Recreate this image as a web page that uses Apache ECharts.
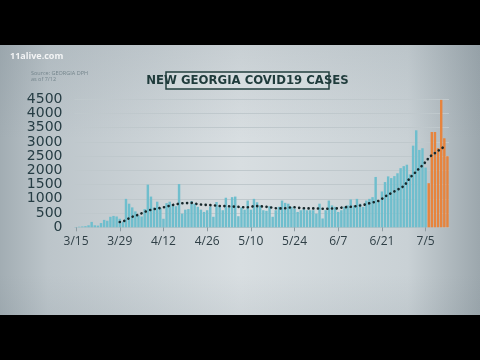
<!DOCTYPE html>
<html><head><meta charset="utf-8">
<script src="https://cdn.jsdelivr.net/npm/echarts@6/dist/echarts.min.js"></script>
<style>html,body{margin:0;padding:0;background:#000}#c{width:480px;height:360px}</style>
</head><body><div id="c"></div>
<script>
// Categories (daily, 3/15 - 7/12)
const datesMar = ['3/15','3/16','3/17','3/18','3/19','3/20','3/21','3/22','3/23','3/24','3/25','3/26','3/27','3/28','3/29','3/30','3/31'];
const datesApr = ['4/1','4/2','4/3','4/4','4/5','4/6','4/7','4/8','4/9','4/10','4/11','4/12','4/13','4/14','4/15','4/16','4/17','4/18','4/19','4/20','4/21','4/22','4/23','4/24','4/25','4/26','4/27','4/28','4/29','4/30'];
const datesMay = ['5/1','5/2','5/3','5/4','5/5','5/6','5/7','5/8','5/9','5/10','5/11','5/12','5/13','5/14','5/15','5/16','5/17','5/18','5/19','5/20','5/21','5/22','5/23','5/24','5/25','5/26','5/27','5/28','5/29','5/30','5/31'];
const datesJun = ['6/1','6/2','6/3','6/4','6/5','6/6','6/7','6/8','6/9','6/10','6/11','6/12','6/13','6/14','6/15','6/16','6/17','6/18','6/19','6/20','6/21','6/22','6/23','6/24','6/25','6/26','6/27','6/28','6/29','6/30'];
const datesJul = ['7/1','7/2','7/3','7/4','7/5','7/6','7/7','7/8','7/9','7/10','7/11','7/12'];

// New cases per day
const casesMar = [10,20,30,40,70,190,70,60,150,260,230,370,400,380,300,200,1000];
const casesApr = [830,700,560,420,380,640,1500,1080,700,900,680,300,850,900,820,740,1520,480,620,640,920,830,720,620,540,600,730,370,890,730];
const casesMay = [600,1040,700,1060,1080,390,700,620,940,620,1000,880,770,600,580,740,370,600,720,940,860,830,720,660,540,600,660,600,600,600,480];
const casesJun = [830,310,600,940,770,720,540,600,720,770,980,770,1000,830,720,940,1000,1060,1770,900,1260,1590,1790,1730,1800,1900,2080,2150,2200,1860];
const casesJul = [2870,3410,2720,2780,2100,1550,3350,3350,2780,4480,3130,2500];

// 7-day average (dotted line)
const avgMar = [null,null,null,null,null,null,null,null,null,null,null,null,null,null,185,200,260];
const avgApr = [320,370,410,440,490,540,585,615,640,660,680,700,730,755,785,810,830,845,850,850,860,840,810,800,790,785,780,775,760,750];
const avgMay = [745,745,740,730,725,720,710,705,705,720,745,745,740,730,720,705,685,670,665,665,670,690,705,705,690,675,670,665,665,665,665];
const avgJun = [660,650,650,655,660,660,670,690,705,715,720,730,750,765,785,810,845,870,900,930,1000,1080,1140,1200,1260,1320,1380,1450,1580,1750];
const avgJul = [1850,1960,2080,2180,2300,2440,2540,2610,2690,2750,2850,null];

const highlightFrom = '7/6';
const yTicks = {min: 0, max: 4500, step: 500};
const titleText = 'NEW GEORGIA COVID19 CASES';
const sourceText = 'Source: GEORGIA DPH\nas of 7/12';
const brandText = '11alive.com';

const dates = [].concat(datesMar, datesApr, datesMay, datesJun, datesJul);
const cases = [].concat(casesMar, casesApr, casesMay, casesJun, casesJul);
const avg = [].concat(avgMar, avgApr, avgMay, avgJun, avgJul);
const hi = dates.indexOf(highlightFrom);
const blue = cases.map((v, i) => i < hi ? v : null);
const orange = cases.map((v, i) => i >= hi ? v : null);

const chart = echarts.init(document.getElementById('c'), null, {renderer: 'canvas'});
chart.setOption({
  backgroundColor: '#000',
  animation: false,
  graphic: [
    {type: 'rect', z: -100, silent: true, shape: {x: 0, y: 45, width: 480, height: 270},
     style: {fill: new echarts.graphic.LinearGradient(0, 0, 1, 0, [
       {offset: 0, color: '#a2adb3'}, {offset: 0.1, color: '#bcc5ca'}, {offset: 0.5, color: '#d8dee1'},
       {offset: 0.85, color: '#c9d1d5'}, {offset: 1, color: '#9ca7ad'}])}},
    {type: 'rect', z: -99, silent: true, shape: {x: 0, y: 45, width: 480, height: 270},
     style: {fill: new echarts.graphic.LinearGradient(0, 0, 0, 1, [
       {offset: 0, color: 'rgba(110,125,135,0.15)'}, {offset: 0.35, color: 'rgba(110,125,135,0)'},
       {offset: 0.85, color: 'rgba(110,125,135,0)'}, {offset: 1, color: 'rgba(110,125,135,0.1)'}])}},
    {type: 'text', x: 10, y: 52, z: 10, style: {text: brandText, fill: 'rgba(255,255,255,0.85)', font: 'bold 9px "Open Sans"'}},
    {type: 'text', x: 31, y: 70, z: 10, style: {text: sourceText, fill: '#74858c', font: '5.5px "Open Sans"', lineHeight: 6}},
    {type: 'rect', z: 10, shape: {x: 166, y: 72, width: 163, height: 17},
     style: {fill: 'rgba(236,241,242,0.3)', stroke: '#23403f', lineWidth: 1.5}},
    {type: 'text', x: 247.5, y: 81, z: 11, style: {text: titleText, align: 'center', verticalAlign: 'middle',
     font: 'bold 13px "Liberation Sans Narrow","DejaVu Sans Condensed"', fill: '#1f3b3b'}}
  ],
  grid: {left: 74.5, right: 31, top: 99.3, bottom: 132.7},
  xAxis: {
    type: 'category', data: dates, boundaryGap: true,
    axisLine: {show: true, lineStyle: {color: '#b9c3c7', width: 1}},
    axisTick: {show: true, alignWithLabel: true, interval: 13, length: 4, lineStyle: {color: '#8e9ba1'}},
    axisLabel: {interval: 13, color: '#2f3f46', fontSize: 12, fontFamily: 'Open Sans', margin: 8}
  },
  yAxis: {
    type: 'value', min: yTicks.min, max: yTicks.max, interval: yTicks.step,
    axisLine: {show: false}, axisTick: {show: false},
    axisLabel: {color: '#263d44', fontSize: 14, fontFamily: 'DejaVu Sans', margin: 12,
      lineHeight: 12, showMinLabel: true, showMaxLabel: true, hideOverlap: false,
      formatter: v => String(v)},
    splitLine: {show: true, lineStyle: {color: '#bfc8cc', width: 1}}
  },
  series: [
    {type: 'bar', data: blue, itemStyle: {color: '#6fbecd'}, barCategoryGap: '22%', barGap: '-100%'},
    {type: 'bar', data: orange, itemStyle: {color: '#e7843d'}, barCategoryGap: '22%', barGap: '-100%'},
    {type: 'line', data: avg, symbol: 'none', z: 5, connectNulls: false,
     lineStyle: {color: '#17272a', width: 2.6, type: [0.1, 4.6], cap: 'round'}}
  ]
});
</script></body></html>
